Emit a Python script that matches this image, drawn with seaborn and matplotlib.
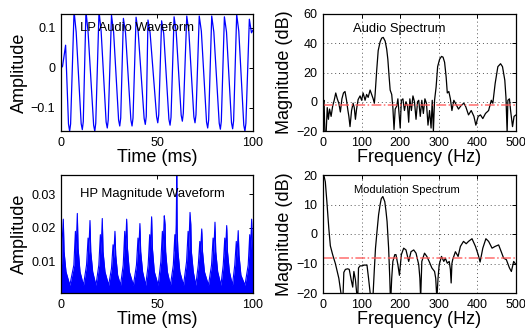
import matplotlib
matplotlib.use("Agg")
import matplotlib.pyplot as plt
import seaborn as sns

# ---------------- data ----------------
# LP audio waveform: key points (time ms, amplitude)
lp_time = [0, 0.8, 2.4,
           3.9, 4.5, 5.0, 6.8, 7.9,
           10.5, 11.1, 11.6, 13.0, 14.1,
           17.0, 17.6, 18.1, 19.8, 20.9,
           23.5, 24.1, 24.6, 26.3, 27.4,
           30.0, 30.6, 31.1, 32.5, 33.6,
           36.4, 37.0, 37.5, 39.1, 40.2,
           43.3, 43.9, 44.4, 45.3, 46.4,
           49.8, 50.4, 50.9, 52.4, 53.5,
           56.2, 56.8, 57.3, 58.9, 60.0,
           62.6, 63.2, 63.7, 65.5, 66.6,
           69.2, 69.8, 70.3, 72.0, 73.1,
           75.8, 76.4, 76.9, 78.5, 79.6,
           82.4, 83.0, 83.5, 85.1, 86.2,
           88.8, 89.4, 89.9, 91.5, 92.6,
           95.2, 95.8, 96.3, 98.1, 99.2, 100]
lp_amp = [0.0, 0.004, 0.057,
          -0.140, -0.158, -0.140, 0.142, 0.090,
          -0.139, -0.154, -0.134, 0.142, 0.090,
          -0.143, -0.158, -0.138, 0.142, 0.092,
          -0.135, -0.150, -0.130, 0.132, 0.090,
          -0.130, -0.145, -0.125, 0.124, 0.088,
          -0.130, -0.145, -0.125, 0.127, 0.090,
          -0.126, -0.141, -0.121, 0.120, 0.088,
          -0.122, -0.137, -0.117, 0.118, 0.086,
          -0.128, -0.143, -0.123, 0.128, 0.090,
          -0.118, -0.133, -0.113, 0.130, 0.090,
          -0.122, -0.137, -0.117, 0.130, 0.092,
          -0.135, -0.150, -0.130, 0.130, 0.090,
          -0.138, -0.153, -0.133, 0.128, 0.090,
          -0.137, -0.152, -0.132, 0.134, 0.092,
          -0.143, -0.158, -0.138, 0.122, 0.088, 0.095]

# HP magnitude waveform envelope (time ms, amplitude)
hp_time = [0, 0.3, 0.6, 1.2, 1.6, 2.6, 4.6,
           6.7, 7.5, 7.8, 8.5, 8.9, 9.9, 11.7,
           13.3, 14.1, 14.4, 15.1, 15.5, 16.5, 18.2,
           19.7, 20.5, 20.8, 21.5, 21.9, 22.9, 24.8,
           26.3, 27.1, 27.4, 28.1, 28.5, 29.5, 31.0,
           32.4, 33.2, 33.5, 34.2, 34.6, 35.6, 37.7,
           39.3, 40.1, 40.4, 41.1, 41.5, 42.5, 44.1,
           45.4, 46.2, 46.5, 47.2, 47.6, 48.6, 50.6,
           52.0, 52.8, 53.1, 53.8, 54.2, 54.5, 55.4, 57.0,
           58.5, 59.3, 59.6, 60.0, 60.3, 60.5, 60.9, 61.9, 63.8,
           65.4, 66.2, 66.5, 67.2, 67.6, 67.9, 68.9, 70.2,
           71.5, 72.3, 72.6, 73.3, 73.7, 74.7, 76.8,
           78.4, 79.2, 79.5, 80.2, 80.6, 81.6, 83.3,
           84.5, 85.3, 85.6, 86.3, 86.7, 87.7, 89.3,
           90.5, 91.3, 91.6, 92.3, 92.7, 93.7, 95.8,
           97.5, 98.3, 98.6, 99.3, 99.7, 100.0]
hp_amp = [0.013, 0.009, 0.016, 0.0226, 0.013, 0.007, 0.003,
          0.009, 0.019, 0.012, 0.0243, 0.014, 0.007, 0.003,
          0.009, 0.017, 0.012, 0.0222, 0.013, 0.007, 0.003,
          0.009, 0.018, 0.012, 0.0228, 0.013, 0.007, 0.003,
          0.008, 0.015, 0.011, 0.0190, 0.012, 0.006, 0.003,
          0.009, 0.019, 0.012, 0.0226, 0.014, 0.007, 0.003,
          0.009, 0.017, 0.012, 0.0213, 0.013, 0.007, 0.003,
          0.009, 0.018, 0.012, 0.0233, 0.014, 0.007, 0.003,
          0.010, 0.019, 0.013, 0.0236, 0.021, 0.013, 0.007, 0.003,
          0.009, 0.018, 0.013, 0.021, 0.0357, 0.019, 0.013, 0.007, 0.003,
          0.010, 0.019, 0.013, 0.0246, 0.021, 0.013, 0.007, 0.003,
          0.009, 0.016, 0.012, 0.0197, 0.013, 0.007, 0.003,
          0.009, 0.017, 0.012, 0.0217, 0.013, 0.007, 0.003,
          0.009, 0.017, 0.012, 0.0207, 0.013, 0.007, 0.003,
          0.009, 0.016, 0.011, 0.0192, 0.012, 0.006, 0.003,
          0.009, 0.018, 0.012, 0.0226, 0.014, 0.013]

# Audio spectrum (Hz, dB)
aud_freq = [0, 2.6, 5, 8, 11, 14, 17, 21, 25, 29, 33, 37, 41, 45, 49, 53, 57, 61, 64, 67, 70, 74,
            78, 81, 84, 87, 91, 96, 100, 104, 109, 113, 117, 122, 126, 130, 133, 135, 139, 143,
            148, 152, 156, 161, 165, 168, 171, 174, 178, 181, 184, 187, 191, 194, 197, 200, 203,
            207, 211, 215, 219, 222, 225, 229, 233, 237, 241, 245, 248, 252, 256, 260, 264, 268,
            272, 276, 280, 283, 286, 289, 293, 297, 302, 307, 311, 315, 319, 322, 326, 330, 334,
            339, 343, 351, 358, 365, 370, 377, 384, 391, 396, 402, 408, 414, 421, 429, 436, 440,
            446, 453, 460, 465, 471, 474, 477, 479, 483, 486, 491, 495, 500]
aud_db = [-1, 1, -22, -22, -4, -12, -5, -10, -3, 1, 6, 2, -1, -7, 2, 6, 7, 1, -5, -10, -17, -6,
          -1, -4, -12, -5, 1.5, 4, 1, 6, 1, 5, 3, 8, 5, 2, -1, 5, 21, 35,
          41, 43.5, 44, 41.5, 36, 29, 18, 8, 5, -4, -19, -5, -3, 2, -8, -18, 1,
          2, -6, 0, -3, -14, 2, -6, 4, 0, -12, 0, 1, -10, 1, -8, 2, -1,
          -16, -6, -18, 1, -20, 1, 10, 24, 29, 31, 30.5, 27, 17, 6, 7, 2, -6,
          1, -1, -5, -2.5, -1, -3.5, -9, -6, -10, -16, -10, -9, -11.5, -8, -6, 1, -1,
          12.5, 24, 26, 24, 14.7, 3, -21, 1, 2, -6, -17, -10, -9]
aud_floor = -2

# Modulation spectrum (Hz, dB)
mod_freq = [0, 2, 6, 10, 15, 19, 25, 32, 41, 47, 51, 54, 58, 64, 68, 73, 77, 80, 84, 88, 90, 92,
            96, 101, 108, 114, 118, 123, 128, 133, 136, 140, 144, 148, 151, 155, 160, 163, 166,
            170, 173, 175, 178, 181, 186, 189, 194, 198, 203, 209, 215, 222, 228, 235, 241, 248,
            251, 253, 256, 263, 269, 275, 282, 289, 292, 295, 298, 301, 307, 313, 317, 322, 327,
            330, 332, 334, 336, 343, 350, 356, 364, 371, 377, 386, 395, 402, 407, 414, 422, 429,
            438, 446, 455, 462, 468, 475, 483, 488, 494, 500]
mod_db = [21, 20, 17.7, 11, 2, -4, -7, -10, -15, -20.5, -24, -13, -12, -11.8, -12, -15.5, -18,
          -12.7, -15.5, -21, -22, -11.5, -10.8, -10.8, -10.5, -10.6, -15, -21, -25, -12, -4.8, 1,
          6.5, 10, 12, 12.7, 11, 8, 4.2, -4.8, -15, -24, -15, -9.3, -7, -7, -10.4, -14, -7, -4.8,
          -5.4, -9.3, -6, -5.4, -6.5, -10.4, -15, -22, -9.3, -6.5, -7.6, -9.3, -11.5, -12.7, -15,
          -22, -15, -10.4, -7.6, -9.3, -8.2, -9.9, -9.3, -12, -16.6, -10, -8.7, -6, -7.6, -4.2,
          -2.5, -3.3, -2.5, -1.6, -4.2, -7, -9.5, -4.8, -1.6, -2.5, -4.8, -4.2, -3.7, -6.1, -8.2,
          -8.7, -11.5, -12.7, -9.3, -10.4]
mod_floor = -8

# ---------------- style ----------------
sns.set_theme(style="white")
plt.rcParams["font.family"] = ["Liberation Sans", "DejaVu Sans"]
plt.rcParams["axes.edgecolor"] = "black"
plt.rcParams["axes.linewidth"] = 0.9
plt.rcParams["text.color"] = "black"
plt.rcParams["axes.labelcolor"] = "black"

fig = plt.figure(figsize=(5.25, 3.29), dpi=100)
W, H = 525.0, 329.0
def box(l, t, r, b):
    return [l / W, 1 - b / H, (r - l) / W, (b - t) / H]

ax1 = fig.add_axes(box(61, 14, 253, 131))
ax2 = fig.add_axes(box(323, 14, 516, 131))
ax3 = fig.add_axes(box(61, 175, 253, 293))
ax4 = fig.add_axes(box(323, 175, 516, 293))

TICK_FS = 9
LAB_FS = 13
TXT_FS = 9.4

for ax in (ax1, ax2, ax3, ax4):
    ax.tick_params(direction="in", length=3, width=0.7, top=True, right=True,
                   labelsize=TICK_FS, colors="black", pad=4)
    for s in ax.spines.values():
        s.set_color("black")

# LP audio waveform
sns.lineplot(x=lp_time, y=lp_amp, ax=ax1, color="#0000ff", lw=0.9, sort=False)
ax1.set_xlim(0, 100)
ax1.set_ylim(-0.1575, 0.135)
ax1.set_xticks([0, 50, 100])
ax1.set_yticks([-0.1, 0, 0.1])
ax1.set_yticklabels(["\u22120.1", "0", "0.1"])
ax1.set_xlabel("Time (ms)", fontsize=LAB_FS, labelpad=0)
ax1.set_ylabel("Amplitude", fontsize=LAB_FS, labelpad=2)
ax1.text(10, 0.1, "LP Audio Waveform", fontsize=TXT_FS, va="center", ha="left")

# Audio spectrum
sns.lineplot(x=aud_freq, y=aud_db, ax=ax2, color="black", lw=0.9, sort=False)
ax2.axhline(aud_floor, color="#ff5555", lw=1.1, ls="-.", alpha=0.85)
ax2.set_xlim(0, 500)
ax2.set_ylim(-20, 60)
ax2.set_xticks([0, 100, 200, 300, 400, 500])
ax2.set_yticks([-20, 0, 20, 40, 60])
ax2.set_yticklabels(["\u221220", "0", "20", "40", "60"])
ax2.grid(True, color="#555555", ls=(0, (1, 3)), lw=0.7)
ax2.set_xlabel("Frequency (Hz)", fontsize=LAB_FS, labelpad=0)
ax2.set_ylabel("Magnitude (dB)", fontsize=LAB_FS, labelpad=2)
ax2.text(78, 49.7, "Audio Spectrum", fontsize=TXT_FS, va="center", ha="left")

# HP magnitude waveform
ax3.fill_between(hp_time, 0, hp_amp, color="#0000ff", lw=0)
sns.lineplot(x=hp_time, y=hp_amp, ax=ax3, color="#0000ff", lw=0.8, sort=False)
ax3.set_xlim(0, 100)
ax3.set_ylim(0.0007, 0.0357)
ax3.set_xticks([0, 50, 100])
ax3.set_yticks([0.01, 0.02, 0.03])
ax3.set_yticklabels(["0.01", "0.02", "0.03"])
ax3.set_xlabel("Time (ms)", fontsize=LAB_FS, labelpad=0)
ax3.set_ylabel("Amplitude", fontsize=LAB_FS, labelpad=2)
ax3.text(10, 0.030, "HP Magnitude Waveform", fontsize=TXT_FS, va="center", ha="left")

# Modulation spectrum
sns.lineplot(x=mod_freq, y=mod_db, ax=ax4, color="black", lw=0.9, sort=False)
ax4.axhline(mod_floor, color="#ff5555", lw=1.1, ls="-.", alpha=0.85)
ax4.set_xlim(0, 500)
ax4.set_ylim(-20, 20)
ax4.set_xticks([0, 100, 200, 300, 400, 500])
ax4.set_yticks([-20, -10, 0, 10, 20])
ax4.set_yticklabels(["\u221220", "\u221210", "0", "10", "20"])
ax4.grid(True, color="#555555", ls=(0, (1, 3)), lw=0.7)
ax4.set_xlabel("Frequency (Hz)", fontsize=LAB_FS, labelpad=0)
ax4.set_ylabel("Magnitude (dB)", fontsize=LAB_FS, labelpad=2)
ax4.text(80, 14.9, "Modulation Spectrum", fontsize=8.0, va="center", ha="left")

fig.savefig("out.png", dpi=100)
